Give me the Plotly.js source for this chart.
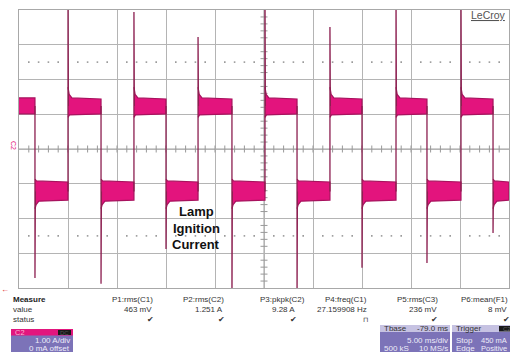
<!DOCTYPE html>
<html>
<head>
<meta charset="utf-8">
<script src="https://cdn.plot.ly/plotly-3.0.1.min.js"></script>
<style>
html,body{margin:0;padding:0;background:#fff;}
#chart{width:510px;height:352px;}
</style>
</head>
<body>
<div id="chart"></div>
<script>
// ---- data (time in ms, current in A) ----
const edgeTimesMs = [1.63, 5.0, 8.37, 11.73, 15.0, 18.27, 21.73, 25.1, 28.37, 31.73, 35.0, 38.47, 41.63, 45.1, 48.37];
const spikePeakA  = [-3.71, 4.6, -3.88, 3.94, -2.88, 3.22, -4.6, 4.6, -4.6, 3.51, -3.42, 4.6, -3.28, 4.6, -2.42];
const highBandA = [1.01, 1.47];     // bottom, top of noisy "high" plateau
const lowBandA  = [-1.50, -0.95];   // bottom, top of noisy "low" plateau
const settleOvershootA = [1.78, -1.72]; // band excursion right after rising / falling edge
const timeRangeMs = [0, 50];
const currentRangeA = [-4, 4];

const measureHeaders = ['P1:rms(C1)', 'P2:rms(C2)', 'P3:pkpk(C2)', 'P4:freq(C1)', 'P5:rms(C3)', 'P6:mean(F1)'];
const measureValues  = ['463 mV', '1.251 A', '9.28 A', '27.159908 Hz', '236 mV', '8 mV'];
const measureStatus  = ['✔', '✔', '✔', '⊓', '✔', '✔'];

// ---- colours ----
const bandColor = '#e3147d';
const bandEdge  = '#a8125e';
const edgeColor = '#8c1f50';
const gridColor = '#b4b4b4';

// ---- build traces ----
const traces = [];
const bounds = [timeRangeMs[0]].concat(edgeTimesMs, [timeRangeMs[1]]);
for (let i = 0; i < bounds.length - 1; i++) {
  const t0 = bounds[i], t1 = bounds[i + 1];
  const isHigh = (i % 2 === 0);
  const band = isHigh ? highBandA : lowBandA;
  const first = (i === 0);
  let xs, ys;
  if (isHigh) {
    const ov = settleOvershootA[0];
    if (first) { xs = [t0, t1, t1, t0]; ys = [band[1], band[1], band[0], band[0]]; }
    else {
      xs = [t0, t0 + 0.12, t0 + 0.4, t1, t1, t0 + 0.15, t0];
      ys = [ov, band[1] + 0.1, band[1], band[1] - 0.03, band[0], band[0] - 0.03, band[0] - 0.1];
    }
  } else {
    const ov = settleOvershootA[1];
    xs = [t0, t0 + 0.12, t0 + 0.4, t1, t1, t0 + 0.15, t0];
    ys = [ov, band[0] - 0.1, band[0], band[0] + 0.03, band[1], band[1] + 0.03, band[1] + 0.08];
  }
  traces.push({x: xs, y: ys, type: 'scatter', mode: 'lines', fill: 'toself',
    fillcolor: bandColor, line: {color: bandEdge, width: 1.2}, hoverinfo: 'skip', showlegend: false});
}
// edges and spikes
const ex = [], ey = [];
const highMid = (highBandA[0] + highBandA[1]) / 2, lowMid = (lowBandA[0] + lowBandA[1]) / 2;
edgeTimesMs.forEach((t, i) => {
  const falling = spikePeakA[i] < 0;
  ex.push(t, t, t + 0.04, null);
  ey.push(falling ? highMid : lowMid, spikePeakA[i], falling ? lowMid : highMid, null);
});
traces.push({x: ex, y: ey, type: 'scatter', mode: 'lines', line: {color: edgeColor, width: 1.3},
  hoverinfo: 'skip', showlegend: false});

// decorative centre-axis ticks and dotted levels
const hx = [], hy = [], vx = [], vy = [], dx = [], dy = [];
for (let k = 1; k < 50; k++) { hx.push(k); hy.push(0); if (k % 5) { dx.push(k, k); dy.push(2.5, -2.5); } }
for (let k = -19; k <= 19; k++) { if (k % 5) { vx.push(25); vy.push(k / 5); } }
traces.unshift({x: dx, y: dy, type: 'scatter', mode: 'markers', marker: {symbol: 'square', size: 1.6, color: '#9a9a9a'}, hoverinfo: 'skip', showlegend: false});
traces.unshift({x: hx, y: hy, type: 'scatter', mode: 'markers', marker: {symbol: 'line-ns', size: 5, line: {width: 1, color: '#999'}}, hoverinfo: 'skip', showlegend: false});
traces.unshift({x: vx, y: vy, type: 'scatter', mode: 'markers', marker: {symbol: 'line-ew', size: 5, line: {width: 1, color: '#999'}}, hoverinfo: 'skip', showlegend: false});

// ---- pixel helpers for screen furniture ----
const PL = 19, PR = 509, PT = 10, PB = 288;
const px = v => (v - PL) / (PR - PL);
const py = v => (PB - v) / (PB - PT);
const FONT = 'Liberation Sans, Arial, sans-serif';
const ann = [];
function txt(text, x, y, anchor, size, color, extra) {
  ann.push(Object.assign({text: text, x: px(x), y: py(y), xref: 'paper', yref: 'paper',
    xanchor: anchor, yanchor: 'middle', showarrow: false,
    font: {family: FONT, size: size, color: color}}, extra || {}));
}
txt('<u>LeCroy</u>', 508, 15, 'right', 10.5, '#555');
txt('C2', 14, 145, 'center', 7, '#e3147d', {textangle: 90});
txt('←', 5, 289, 'center', 8, '#e02020');
txt('<b>Lamp</b>', 196, 212, 'center', 13, '#111');
txt('<b>Ignition</b>', 196, 228, 'center', 13, '#111');
txt('<b>Current</b>', 196, 244, 'center', 13, '#111');

txt('<b>Measure</b>', 11, 299, 'left', 8, '#222');
txt('value', 11, 309, 'left', 8, '#333');
txt('status', 11, 319, 'left', 8, '#333');
const headerRight = [155, 226, 307, 369, 440, null];
const valueRight  = [154, 225, 297, 369, 439, 509];
const statusX     = [150, 221, 293, 365, 434, 506];
measureHeaders.forEach((h, i) => {
  if (headerRight[i] === null) txt(h, 459, 299, 'left', 8, '#333');
  else txt(h, headerRight[i], 299, 'right', 8, '#333');
  txt(measureValues[i], valueRight[i], 309, 'right', 8, '#333');
  txt(measureStatus[i], statusX[i], 319, 'center', measureStatus[i] === '✔' ? 8 : 7, '#333');
});

const shapes = [
  {type: 'line', xref: 'x', yref: 'paper', x0: 25, x1: 25, y0: 0, y1: 1, line: {color: '#a0a0a0', width: 1}, layer: 'below'},
  {type: 'line', xref: 'paper', yref: 'y', x0: 0, x1: 1, y0: 0, y1: 0, line: {color: '#a0a0a0', width: 1}, layer: 'below'}
];
function box(x0, y0, x1, y1, color) {
  shapes.push({type: 'rect', xref: 'paper', yref: 'paper', x0: px(x0), x1: px(x1), y0: py(y1), y1: py(y0),
    fillcolor: color, line: {width: 0}});
}
const purple = '#7c73b8', lavender = '#c6c2e2', magenta = '#e2167e', light = '#eeecf8';
// C2 channel box
box(11, 329, 73, 354, purple); box(11, 329, 73, 335.5, magenta); box(58, 330, 71, 335, '#1a1a1a');
txt('C2', 13, 332.3, 'left', 7.5, '#f8b6d4');
txt('DC', 64.5, 332.5, 'center', 6, '#555');
txt('1.00 A/div', 72, 340, 'right', 8, light);
txt('0 mA offset', 72, 348, 'right', 8, light);
// Tbase box
box(380, 325, 450, 354, purple); box(380, 325, 450, 332, lavender);
txt('Tbase', 382, 328.5, 'left', 8, '#333');
txt('-79.0 ms', 450, 328.5, 'right', 8, '#333');
txt('5.00 ms/div', 450, 340.5, 'right', 8, light);
txt('500 kS', 382, 348.5, 'left', 8, light);
txt('10 MS/s', 450, 348.5, 'right', 8, light);
// Trigger box
box(452, 325, 512, 354, purple); box(452, 325, 512, 332, lavender); box(499, 326, 512, 331.5, '#1a1a1a');
txt('Trigger', 454, 328.5, 'left', 8, '#333');
txt('C2', 501, 328.8, 'left', 6, '#666');
txt('Stop', 454, 340.5, 'left', 8, light);
txt('450 mA', 509, 340.5, 'right', 7.5, light);
txt('Edge', 454, 348.5, 'left', 8, light);
txt('Positive', 509, 348.5, 'right', 7.5, light);

const axisCommon = {showticklabels: false, ticks: '', zeroline: false, showgrid: true,
  gridcolor: gridColor, gridwidth: 1, showline: true, mirror: true, linecolor: '#a8a8a8', linewidth: 1, fixedrange: true};
const layout = {
  width: 510, height: 352, margin: {l: PL, r: 510 - PR, t: PT, b: 352 - PB, pad: 0},
  paper_bgcolor: '#fff', plot_bgcolor: '#fff', showlegend: false,
  xaxis: Object.assign({range: timeRangeMs, dtick: 5, tick0: 0}, axisCommon),
  yaxis: Object.assign({range: currentRangeA, dtick: 1, tick0: 0}, axisCommon),
  shapes: shapes, annotations: ann
};
Plotly.newPlot('chart', traces, layout, {displayModeBar: false, staticPlot: true});
</script>
</body>
</html>
